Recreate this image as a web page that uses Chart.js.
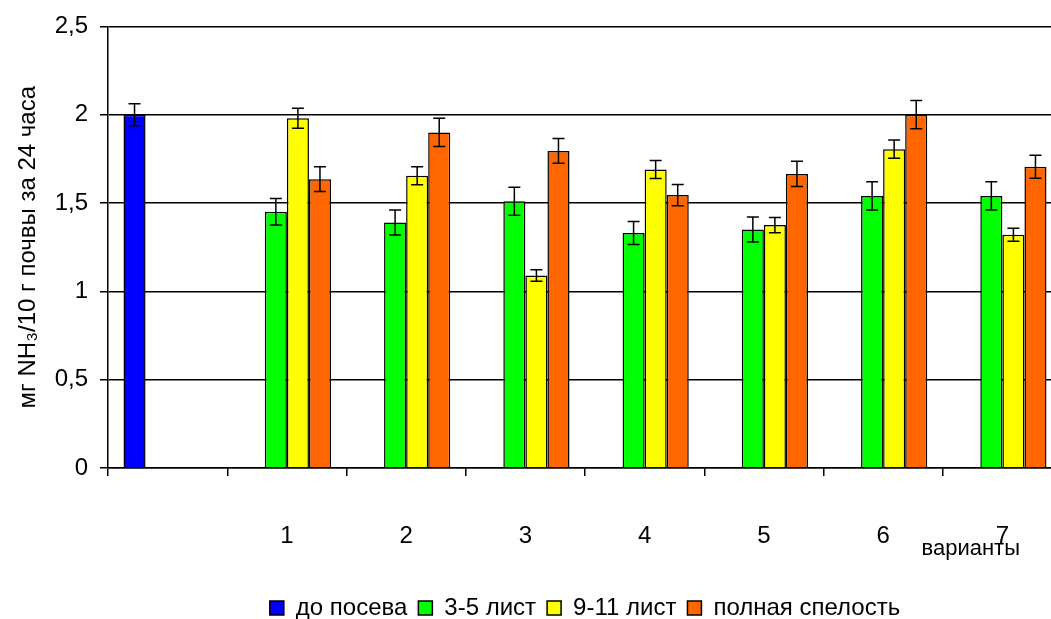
<!DOCTYPE html>
<html>
<head>
  <meta charset="utf-8">
  <title>варианты</title>
  <script src="https://cdn.jsdelivr.net/npm/chart.js"></script>
  <style>
    html, body { margin: 0; padding: 0; background: #fff; overflow: hidden; }
    #wrap { width: 1066px; height: 630px; }
  </style>
</head>
<body>

<div id="wrap"><canvas id="chart"></canvas></div>

<script>
  // данные с рисунка
  const categories = ['', '1', '2', '3', '4', '5', '6', '7'];
  const yTickLabels = ['0', '0,5', '1', '1,5', '2', '2,5'];

  const doPoseva = [2.0, null, null, null, null, null, null, null];
  const list35 = [null, 1.45, 1.39, 1.51, 1.33, 1.35, 1.54, 1.54];
  const list911 = [null, 1.98, 1.655, 1.09, 1.69, 1.375, 1.805, 1.32];
  const spelost = [null, 1.635, 1.9, 1.795, 1.545, 1.665, 2.0, 1.705];

  const errDoPoseva = [0.062, null, null, null, null, null, null, null];
  const err35 = [null, 0.075, 0.071, 0.079, 0.065, 0.071, 0.08, 0.08];
  const err911 = [null, 0.056, 0.051, 0.033, 0.051, 0.043, 0.052, 0.037];
  const errSpelost = [null, 0.07, 0.08, 0.07, 0.06, 0.071, 0.08, 0.065];

  const errors = [errDoPoseva, err35, err911, errSpelost];
  const FONT = 'Liberation Sans, Arial, sans-serif';
  const FS = 24;

  // планки погрешностей
  const errorBars = {
    id: 'errorBars',
    afterDatasetsDraw(chart) {
      const ctx = chart.ctx;
      const y = chart.scales.y;
      ctx.save();
      ctx.strokeStyle = '#000';
      ctx.lineWidth = 1.5;
      chart.data.datasets.forEach((ds, i) => {
        const meta = chart.getDatasetMeta(i);
        meta.data.forEach((bar, j) => {
          const v = ds.data[j];
          const e = errors[i][j];
          if (v == null || e == null) return;
          const top = y.getPixelForValue(v + e);
          const bot = y.getPixelForValue(v - e);
          ctx.beginPath();
          ctx.moveTo(bar.x, top); ctx.lineTo(bar.x, bot);
          ctx.moveTo(bar.x - 6, top); ctx.lineTo(bar.x + 6, top);
          ctx.moveTo(bar.x - 6, bot); ctx.lineTo(bar.x + 6, bot);
          ctx.stroke();
        });
      });
      ctx.restore();
    }
  };

  // подпись оси X справа
  const xTitle = {
    id: 'xTitle',
    afterDraw(chart) {
      const ctx = chart.ctx;
      ctx.save();
      ctx.font = '22px ' + FONT;
      ctx.fillStyle = '#000';
      ctx.textAlign = 'right';
      ctx.textBaseline = 'middle';
      ctx.fillText('варианты', chart.chartArea.right - 42, chart.chartArea.bottom + 81);
      ctx.restore();
    }
  };

  const ds = (label, data, color) => ({
    label: label, data: data, backgroundColor: color,
    borderColor: '#000', borderWidth: 1.5,
    barPercentage: 1, categoryPercentage: 0.74
  });

  new Chart(document.getElementById('chart'), {
    type: 'bar',
    data: {
      labels: categories,
      datasets: [
        ds('до посева', doPoseva, '#0000ff'),
        ds('3-5 лист', list35, '#00ff00'),
        ds('9-11 лист', list911, '#ffff00'),
        ds('полная спелость', spelost, '#ff6600')
      ]
    },
    options: {
      responsive: true,
      maintainAspectRatio: false,
      animation: false,
      layout: { padding: { left: 8, top: 19, right: 4, bottom: 0 } },
      plugins: {
        legend: {
          position: 'bottom',
          fullSize: false,
          labels: {
            color: '#000', font: { family: FONT, size: FS },
            boxWidth: 14, boxHeight: 14, padding: 11
          }
        },
        tooltip: { enabled: false }
      },
      scales: {
        x: {
          grid: { offset: true, drawOnChartArea: false, color: '#000', lineWidth: 1.5, tickLength: 8 },
          border: { color: '#000', width: 1.5 },
          ticks: { color: '#000', font: { family: FONT, size: FS }, padding: 46 },
          afterFit: s => { s.height = 117; }
        },
        y: {
          min: 0, max: 2.5,
          ticks: {
            stepSize: 0.5, color: '#000', font: { family: FONT, size: FS }, padding: 12,
            callback: (v, i) => yTickLabels[i]
          },
          grid: { color: '#000', lineWidth: 1.5, tickLength: 8 },
          border: { color: '#000', width: 1.5 },
          title: {
            display: true, text: 'мг NH₃/10 г почвы за 24 часа',
            color: '#000', font: { family: FONT, size: FS }, padding: { top: 6, bottom: 0 }
          },
          afterFit: s => { s.width = 100; }
        }
      }
    },
    plugins: [errorBars, xTitle]
  });
</script>

</body>
</html>
